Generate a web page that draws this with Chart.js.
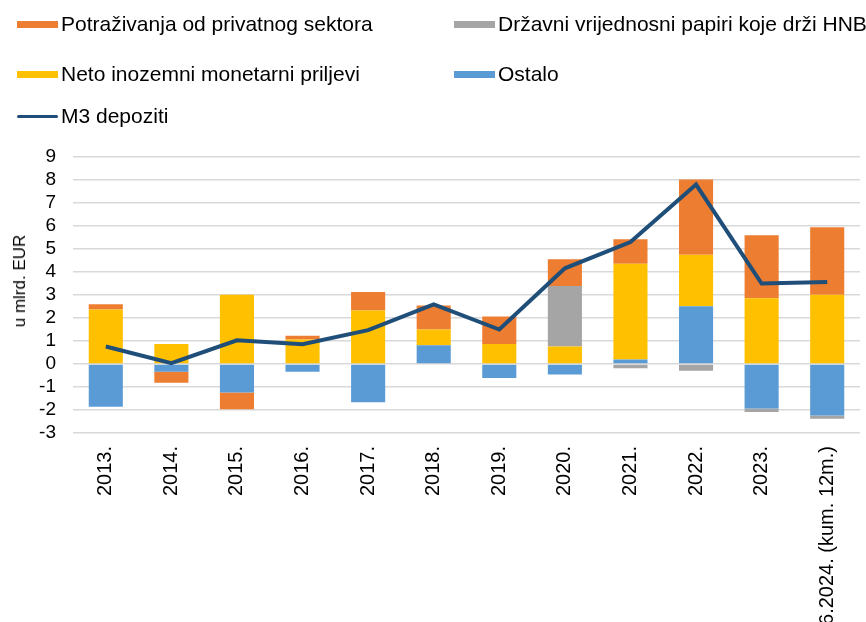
<!DOCTYPE html>
<html>
<head>
<meta charset="utf-8">
<script src="https://cdn.jsdelivr.net/npm/chart.js@4/dist/chart.umd.min.js"></script>
<style>
  html, body { margin: 0; padding: 0; background: #fff; overflow: hidden; }
  #wrap { position: relative; width: 866px; height: 622px; }
  #chart-m3 { position: absolute; left: 0; top: 0; }
  .leg { position: absolute; display: flex; align-items: center; font-family: "Liberation Sans", Arial, sans-serif; font-size: 21px; color: #000; white-space: nowrap; line-height: 24px; height: 24px; }
  .leg i { display: block; width: 41px; height: 7px; margin-right: 3px; }
  .leg i.ln { height: 3px; border-radius: 2px; }
  #ytitle { position: absolute; left: 20px; top: 281px; transform: translate(-50%, -50%) rotate(-90deg); font-family: "Liberation Sans", Arial, sans-serif; font-size: 17px; color: #000; white-space: nowrap; }
</style>
</head>
<body>
<div id="wrap">
  <canvas id="chart-m3" width="866" height="622"></canvas>
  <div class="leg" style="left:17px; top:12px"><i style="background:#ED7D31"></i>Potraživanja od privatnog sektora</div>
  <div class="leg" style="left:454px; top:12px"><i style="background:#A5A5A5"></i>Državni vrijednosni papiri koje drži HNB</div>
  <div class="leg" style="left:17px; top:62px"><i style="background:#FFC000"></i>Neto inozemni monetarni priljevi</div>
  <div class="leg" style="left:454px; top:62px"><i style="background:#5B9BD5"></i>Ostalo</div>
  <div class="leg" style="left:17px; top:104px"><i class="ln" style="background:#1F4E79"></i>M3 depoziti</div>
  <div id="ytitle">u mlrd. EUR</div>
</div>
<script>
const years = ["2013.", "2014.", "2015.", "2016.", "2017.", "2018.", "2019.", "2020.", "2021.", "2022.", "2023.", "6.2024. (kum. 12m.)"];
const ostalo = [-1.86, -0.34, -1.24, -0.34, -1.66, 0.81, -0.61, -0.46, 0.2, 2.51, -1.93, -2.24];
const netoInozemni = [2.37, 0.87, 3.01, 1.07, 2.33, 0.69, 0.87, 0.76, 4.16, 2.24, 2.86, 3.01];
const drzavniPapiri = [0, 0, 0, 0, 0, 0, 0, 2.63, -0.19, -0.29, -0.16, -0.14];
const potrazivanja = [0.23, -0.47, -0.73, 0.16, 0.8, 1.04, 1.2, 1.16, 1.06, 3.27, 2.74, 2.94];
const m3Depoziti = [0.76, 0.04, 1.03, 0.86, 1.47, 2.59, 1.5, 4.16, 5.3, 7.8, 3.5, 3.57];

const fontFam = "'Liberation Sans', Arial, sans-serif";

const chartM3Get = document.getElementById("chart-m3");
let chartM3Render = new Chart(chartM3Get, {
    data: {
        labels: years,
        datasets: [
            { type: 'line', label: 'M3 depoziti', data: m3Depoziti, borderColor: '#1F4E79', borderWidth: 4, pointRadius: 0, fill: false, order: 0 },
            { type: 'bar', label: 'Ostalo', data: ostalo, backgroundColor: '#5B9BD5', order: 1 },
            { type: 'bar', label: 'Neto inozemni monetarni priljevi', data: netoInozemni, backgroundColor: '#FFC000', order: 1 },
            { type: 'bar', label: 'Državni vrijednosni papiri koje drži HNB', data: drzavniPapiri, backgroundColor: '#A5A5A5', order: 1 },
            { type: 'bar', label: 'Potraživanja od privatnog sektora', data: potrazivanja, backgroundColor: '#ED7D31', order: 1 }
        ]
    },
    options: {
        responsive: false,
        animation: false,
        layout: { padding: { top: 157, right: 6, left: 0, bottom: 0 } },
        plugins: { legend: { display: false }, tooltip: { enabled: false } },
        datasets: { bar: { barPercentage: 1, categoryPercentage: 0.52, stack: 's1' } },
        scales: {
            x: {
                stacked: true,
                grid: { display: false },
                border: { display: false },
                ticks: { color: '#000', font: { family: fontFam, size: 20 }, minRotation: 90, maxRotation: 90, padding: 5, autoSkip: false },
                afterFit: (s) => { s.height = 189; }
            },
            y: {
                stacked: true,
                min: -3,
                max: 9,
                ticks: { stepSize: 1, autoSkip: false, color: '#000', font: { family: fontFam, size: 19 }, padding: 17 },
                grid: { color: '#D9D9D9', lineWidth: 1.5, drawTicks: false },
                border: { display: false },
                afterFit: (s) => { s.width = 73; }
            }
        }
    }
});
</script>
</body>
</html>
